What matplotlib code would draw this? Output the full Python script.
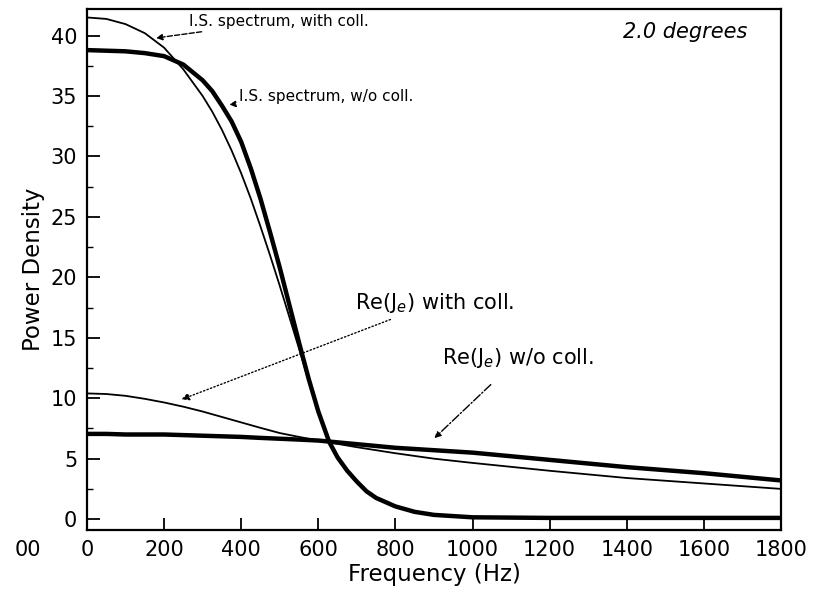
import matplotlib
matplotlib.use("Agg")
import matplotlib.pyplot as plt
from matplotlib.ticker import MultipleLocator

# ---- data ----
freq_is = [0, 50, 100, 150, 200, 250, 300, 325, 350, 375, 400, 425, 450, 475, 500, 525,
           550, 575, 600, 628, 650, 675, 700, 725, 750, 800, 850, 900, 1000, 1200, 1400,
           1600, 1800]
is_with = [41.5, 41.38, 40.95, 40.2, 39.0, 37.2, 35.0, 33.7, 32.2, 30.5, 28.6, 26.5, 24.2,
           21.8, 19.3, 16.7, 14.1, 11.4, 8.9, 6.4, 5.1, 4.0, 3.1, 2.3, 1.75, 1.05, 0.6,
           0.35, 0.12, 0.08, 0.06, 0.05, 0.05]
is_without = [38.8, 38.75, 38.7, 38.55, 38.3, 37.6, 36.3, 35.4, 34.2, 32.9, 31.2, 29.0,
              26.5, 23.7, 20.8, 17.7, 14.6, 11.6, 8.9, 6.4, 5.1, 4.0, 3.1, 2.3, 1.75, 1.05,
              0.6, 0.35, 0.15, 0.1, 0.1, 0.1, 0.1]

freq_re = [0, 50, 100, 150, 200, 250, 300, 350, 400, 450, 500, 550, 600, 700, 800, 900,
           1000, 1200, 1400, 1600, 1800]
re_with = [10.4, 10.35, 10.2, 9.95, 9.65, 9.3, 8.9, 8.45, 8.0, 7.55, 7.12, 6.8, 6.5, 5.95,
           5.45, 5.0, 4.65, 4.0, 3.4, 2.95, 2.5]
re_without = [7.05, 7.05, 7.0, 7.0, 7.0, 6.95, 6.9, 6.85, 6.8, 6.72, 6.65, 6.58, 6.5, 6.2,
              5.9, 5.7, 5.5, 4.9, 4.3, 3.8, 3.2]

xticks = [0, 200, 400, 600, 800, 1000, 1200, 1400, 1600, 1800]
yticks = [0, 5, 10, 15, 20, 25, 30, 35, 40]

fig = plt.figure(figsize=(8.21, 5.89), dpi=100)
ax = fig.add_axes([87/821, 1 - 530/589, (781-87)/821, (530-9)/589])

ax.plot(freq_is, is_with, color="black", lw=1.3)
ax.plot(freq_is, is_without, color="black", lw=3.2)
ax.plot(freq_re, re_with, color="black", lw=1.3)
ax.plot(freq_re, re_without, color="black", lw=3.2)

ax.set_xlim(0, 1800)
ax.set_ylim(-0.9, 42.2)
ax.set_xticks(xticks)
ax.set_yticks(yticks)
ax.yaxis.set_minor_locator(MultipleLocator(2.5))
ax.tick_params(axis="both", which="major", direction="in", length=9, width=1.3,
               labelsize=15, pad=7)
ax.tick_params(axis="y", which="minor", direction="in", length=4, width=1.0)
for s in ax.spines.values():
    s.set_linewidth(1.6)

ax.annotate("00", xy=(-153, 0), xycoords=("data", "axes fraction"),
            xytext=(0, -7), textcoords="offset points",
            fontsize=15, ha="center", va="top", annotation_clip=False)

ax.set_xlabel("Frequency (Hz)", fontsize=16.5, labelpad=2)
ax.set_ylabel("Power Density", fontsize=16.5, labelpad=4)

ax.annotate("I.S. spectrum, with coll.", xy=(179, 39.8), xytext=(265, 41.2),
            va="center", ha="left", fontsize=11,
            arrowprops=dict(arrowstyle="-|>", color="black", lw=1.0, ls="--",
                            shrinkA=2, shrinkB=0, mutation_scale=9))
ax.annotate("I.S. spectrum, w/o coll.", xy=(369, 34.3), xytext=(395, 35.0),
            va="center", ha="left", fontsize=11,
            arrowprops=dict(arrowstyle="-|>", color="black", lw=1.0, ls="--",
                            shrinkA=2, shrinkB=0, mutation_scale=9))
ax.annotate(r"Re(J$_e$) with coll.", xy=(245, 9.9), xytext=(694, 17.9),
            va="center", ha="left", fontsize=15,
            arrowprops=dict(arrowstyle="-|>", color="black", lw=1.0, ls=":",
                            shrinkA=4, shrinkB=0, mutation_scale=11))
ax.annotate(r"Re(J$_e$) w/o coll.", xy=(901, 6.7), xytext=(922, 13.3),
            va="center", ha="left", fontsize=15,
            arrowprops=dict(arrowstyle="-|>", color="black", lw=1.0, ls="-.",
                            shrinkA=12, shrinkB=0, mutation_scale=9))
ax.text(1714, 40.3, "2.0 degrees", fontsize=15, style="italic", ha="right", va="center")

fig.savefig("out.png", dpi=100)
